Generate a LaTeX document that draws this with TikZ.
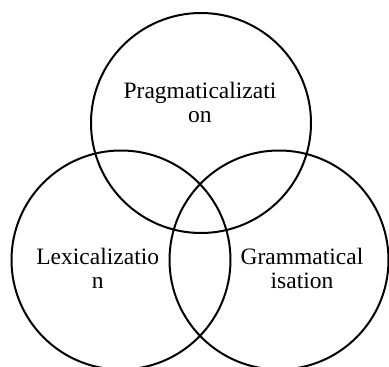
\documentclass[tikz,border=0pt]{standalone}
\usepackage{fontspec}
\setmainfont{Liberation Serif}
\begin{document}
\begin{tikzpicture}[x=1pt,y=1pt,
  ring/.style={draw=black,line width=2pt},
  lbl/.style={align=center,inner sep=0pt,font=\fontsize{23.5}{24}\selectfont}]
\useasboundingbox (0,0) rectangle (389,367);
\draw[ring] (201,244) circle (110);
\draw[ring] (121,107) circle (109.5);
\draw[ring] (279,107) circle (109.5);
\node[lbl] (p) at (200,265) {Pragmaticalizati\\on};
\node[lbl] (l) at (97.7,99) {Lexicalizatio\\n};
\node[lbl] (g) at (302,99) {Grammatical\\isation};
\end{tikzpicture}
\end{document}
